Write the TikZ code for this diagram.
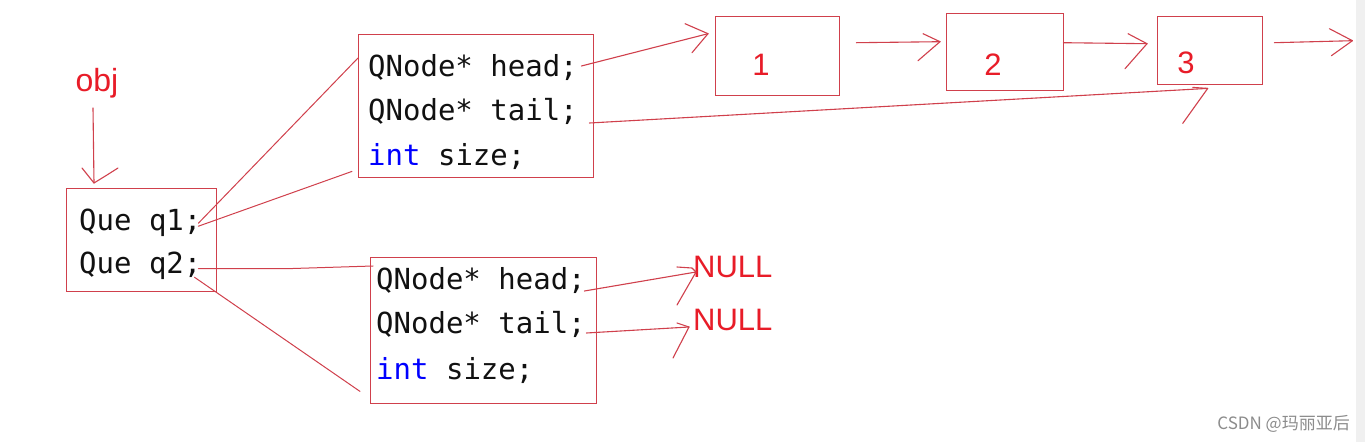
\documentclass[tikz,border=0pt]{standalone}
\usepackage{fontspec}
\setmainfont{Liberation Sans}
\newfontfamily\codefont{DejaVu Sans Mono}
\newfontfamily\cjkfont{Noto Sans CJK SC}
\usetikzlibrary{calc}
\definecolor{linered}{RGB}{208,64,76}
\definecolor{txtred}{RGB}{232,28,40}
\definecolor{kwblue}{RGB}{0,0,255}
\definecolor{codeblack}{RGB}{17,17,17}
\definecolor{wmgray}{RGB}{140,140,140}
\definecolor{stripgray}{RGB}{240,240,240}
\begin{document}
\begin{tikzpicture}[x=1pt,y=-1pt,
  box/.style={draw=linered,line width=1.4pt,inner sep=0pt,anchor=north west},
  conn/.style={draw=linered,line width=1.1pt,line cap=round,line join=round},
  code/.style={font=\codefont\fontsize{29}{29}\selectfont,text=codeblack,inner sep=0pt,anchor=base west},
  redtxt/.style={font=\fontsize{31}{31}\selectfont,text=txtred,inner sep=0pt},
]
\useasboundingbox (0,0) rectangle (1365,442);
\fill[white] (0,0) rectangle (1365,442);
\fill[stripgray] (1356,0) rectangle (1365,442);

% boxes
\node[box,minimum width=150,minimum height=103] (que) at (66,188) {};
\node[box,minimum width=235,minimum height=143] (tq) at (358,34) {};
\node[box,minimum width=226,minimum height=146] (bq) at (370,257) {};
\node[box,minimum width=124,minimum height=79] (n1) at (715,16) {};
\node[box,minimum width=117,minimum height=77] (n2) at (946,13) {};
\node[box,minimum width=105,minimum height=68] (n3) at (1157,16) {};

% texts
\node[redtxt,font=\fontsize{32}{32}\selectfont,anchor=base] (obj) at (97,91) {obj};
\node[code] (q1) at (79,230) {Que q1;};
\node[code] (q2) at (79,273) {Que q2;};
\node[code] (th) at (368,76) {QNode* head;};
\node[code] (tt) at (368,120) {QNode* tail;};
\node[code] (ts) at (368,165) {{\color{kwblue}int} size;};
\node[code] (bh) at (376,289) {QNode* head;};
\node[code] (bt) at (376,333) {QNode* tail;};
\node[code] (bs) at (376,379) {{\color{kwblue}int} size;};
\node[redtxt] (d1) at (761,65) {1};
\node[redtxt] (d2) at (993,65) {2};
\node[redtxt] (d3) at (1186,63) {3};
\node[redtxt,anchor=base west] (null1) at (693,277) {NULL};
\node[redtxt,anchor=base west] (null2) at (693,330) {NULL};
\node[font=\cjkfont\fontsize{17}{17}\selectfont,text=wmgray,inner sep=0pt,anchor=east] (wm) at (1350,424) {CSDN @玛丽亚后};

% tip coordinates
\coordinate (tobj) at ($(que.north west)+(28,-5)$);
\coordinate (t1) at ($(n1.west)+(-7,-22.5)$);
\coordinate (t2) at ($(n2.west)+(-6,-10.5)$);
\coordinate (t3) at ($(n3.west)+(-10,-7)$);
\coordinate (t3b) at ($(n3.south)+(-2.5,3)$);
\coordinate (tout) at ($(n3.east)+(89,-10)$);
\coordinate (tn1) at ($(null1.base west)+(3,-5)$);
\coordinate (tn2) at ($(null2.base west)+(-4,-3)$);

% obj -> que
\draw[conn] ($(obj.south)+(-4,10)$) -- (tobj);
\draw[conn] ($(tobj)+(-12,-15)$) -- (tobj) -- ($(tobj)+(13,-8)$) -- ($(tobj)+(24,-15)$);

% q1 -> top struct
\draw[conn,line width=1pt] ($(que.east)+(-19,-17)$) -- ($(tq.north west)+(0,24)$);
\draw[conn,line width=1pt] ($(que.east)+(-19,-14)$) -- ($(tq.south west)+(-6,-7)$);
% q2 -> bottom struct
\draw[conn,line width=1pt] ($(que.east)+(-19,28.5)$) -- ($(que.east)+(69,28.5)$) -- ($(bq.north west)+(3,9)$);
\draw[conn,line width=1pt] ($(que.east)+(-23,37)$) -- ($(bq.south west)+(-10,-13)$);

% head -> node 1
\draw[conn] ($(tq.north east)+(-13,32)$) -- (t1);
\draw[conn] ($(t1)+(-23,-10)$) -- (t1) -- ($(t1)+(-16,19)$);
% tail -> node 3
\draw[conn] ($(tq.north east)+(-5,89)$) -- (t3b);
\draw[conn] ($(t3b)+(-15,-1)$) -- (t3b) -- ($(t3b)+(-25,35)$);
% 1 -> 2
\draw[conn] ($(n1.east)+(16,-13.5)$) -- (t2);
\draw[conn] ($(t2)+(-17,-8)$) -- (t2) -- ($(t2)+(-22,19)$);
% 2 -> 3
\draw[conn] ($(n2.east)+(-1,-9.5)$) -- (t3);
\draw[conn] ($(t3)+(-19,-10)$) -- (t3) -- ($(t3)+(-22,25)$);
% 3 -> out
\draw[conn] ($(n3.east)+(11,-8)$) -- (tout);
\draw[conn] ($(tout)+(-23,-12)$) -- (tout) -- ($(tout)+(-21,15)$);
% bottom head -> NULL
\draw[conn] ($(bq.north east)+(-13,34)$) -- (tn1);
\draw[conn] ($(tn1)+(-19,-5)$) -- ($(tn1)+(-4,-4)$) -- (tn1) -- ($(tn1)+(-19,33)$);
% bottom tail -> NULL
\draw[conn] ($(bq.north east)+(-11,76)$) -- (tn2);
\draw[conn] ($(tn2)+(-12,-4)$) -- (tn2) -- ($(tn2)+(-16,31)$);
\end{tikzpicture}
\end{document}
